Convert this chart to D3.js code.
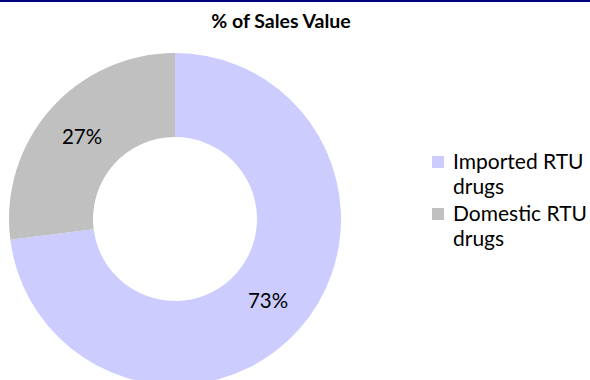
<!DOCTYPE html>
<html>
<head>
<meta charset="utf-8">
<script src="https://cdn.jsdelivr.net/npm/d3@7"></script>
<style>
  body { margin: 0; background: #fff; }
  svg { display: block; font-family: Lato, "Open Sans", sans-serif; }
</style>
</head>
<body>
<div id="chart"></div>
<script>
const categories = ['Imported RTU drugs', 'Domestic RTU drugs'];
const values = [73, 27];
const legendLines = [['Imported RTU', 'drugs'], ['Domestic RTU', 'drugs']];
const colors = ['#ccccff', '#c0c0c0'];

const width = 590, height = 380;
const cx = 175, cy = 219, outerR = 166, innerR = 82;

const svg = d3.select('#chart').append('svg')
    .attr('width', width)
    .attr('height', height);

// top border line
svg.append('rect')
    .attr('x', 0).attr('y', 0)
    .attr('width', width).attr('height', 2)
    .attr('fill', '#000080');

svg.append('text')
    .attr('x', 281)
    .attr('y', 28)
    .attr('text-anchor', 'middle')
    .style('font-size', '19.5px')
    .style('font-weight', 'bold')
    .text('% of Sales Value');

const pie = d3.pie().sort(null).value(d => d);
const arc = d3.arc().innerRadius(innerR).outerRadius(outerR);

const g = svg.append('g').attr('transform', `translate(${cx},${cy})`);

const slices = g.selectAll('.slice')
    .data(pie(values))
    .enter().append('g')
    .attr('class', 'slice');

slices.append('path')
    .attr('d', arc)
    .attr('fill', (d, i) => colors[i]);

slices.append('text')
    .attr('transform', d => `translate(${arc.centroid(d)})`)
    .attr('text-anchor', 'middle')
    .attr('dy', '0.35em')
    .style('font-size', '20.5px')
    .text(d => d.data + '%');

// legend
const legend = svg.selectAll('.legend')
    .data(categories)
    .enter().append('g')
    .attr('class', 'legend')
    .attr('transform', (d, i) => `translate(432,${169 + i * 52})`);

legend.append('rect')
    .attr('x', 0).attr('y', -13)
    .attr('width', 12).attr('height', 12)
    .attr('fill', (d, i) => colors[i]);

legend.append('text')
    .style('font-size', '21px')
    .selectAll('tspan')
    .data((d, i) => legendLines[i])
    .enter().append('tspan')
    .attr('x', 21)
    .attr('dy', (d, j) => j === 0 ? 0 : 25)
    .text(d => d);
</script>
</body>
</html>
